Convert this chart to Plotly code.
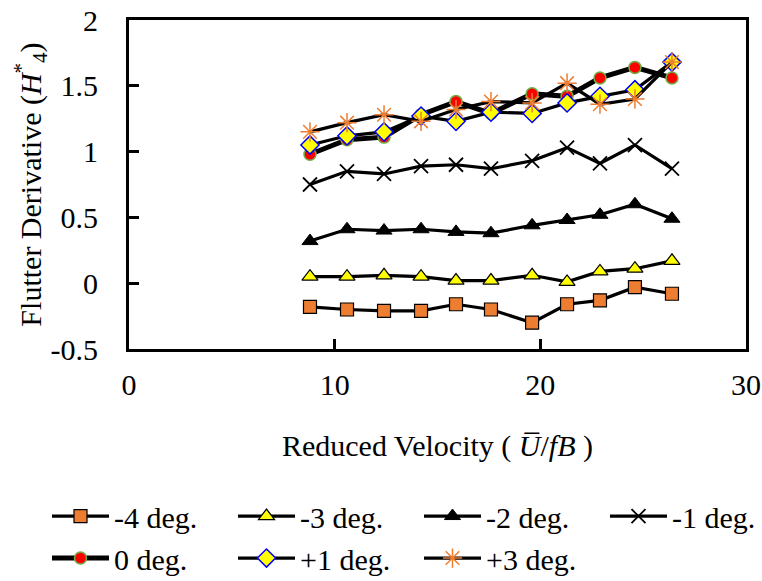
import plotly.graph_objects as go

# Reduced velocity U/fB for each test point
reduced_velocity = [8.8, 10.6, 12.4, 14.2, 15.9, 17.6, 19.6, 21.3, 22.9, 24.6, 26.4]

# Flutter derivative H4* for each angle of attack
h4_m4 = [-0.18, -0.20, -0.21, -0.21, -0.16, -0.20, -0.30, -0.16, -0.13, -0.03, -0.08]
h4_m3 = [0.05, 0.05, 0.06, 0.05, 0.02, 0.02, 0.06, 0.01, 0.09, 0.11, 0.17]
h4_m2 = [0.32, 0.41, 0.40, 0.41, 0.39, 0.38, 0.44, 0.48, 0.52, 0.60, 0.49]
h4_m1 = [0.75, 0.85, 0.83, 0.89, 0.90, 0.87, 0.93, 1.03, 0.91, 1.05, 0.87]
h4_0 = [0.98, 1.09, 1.11, 1.28, 1.38, 1.29, 1.44, 1.42, 1.56, 1.64, 1.56]
h4_p1 = [1.05, 1.12, 1.15, 1.27, 1.23, 1.30, 1.29, 1.37, 1.42, 1.47, 1.68]
h4_p3 = [1.15, 1.22, 1.28, 1.23, 1.32, 1.38, 1.37, 1.52, 1.36, 1.40, 1.68]

series_names = ["-4 deg.", "-3 deg.", "-2 deg.", "-1 deg.", "0 deg.", "+1 deg.", "+3 deg."]

x_ticks = [0, 10, 20, 30]
y_ticks = [-0.5, 0, 0.5, 1, 1.5, 2]

FONT = "Liberation Serif"
FS = 30
ORANGE = "#ED7D31"

styles = [
    dict(symbol="square", size=13, color=ORANGE, line=dict(color="black", width=1.2)),
    dict(symbol="triangle-up", size=14, color="#FFFF00", line=dict(color="black", width=1.2)),
    dict(symbol="triangle-up", size=14, color="black", line=dict(color="black", width=1)),
    dict(symbol="x-thin-open", size=14, color="black", line=dict(color="black", width=1.8)),
    dict(symbol="circle", size=12, color="#FF0000", line=dict(color="#70AD47", width=1.5)),
    dict(symbol="diamond", size=14, color="#FFFF00", line=dict(color="#0000FF", width=1.5)),
    dict(symbol="asterisk-open", size=16, color=ORANGE, line=dict(color=ORANGE, width=1.5)),
]
line_widths = [3.2, 3.2, 3.2, 3.2, 5, 3.2, 3.2]
all_series = [h4_m4, h4_m3, h4_m2, h4_m1, h4_0, h4_p1, h4_p3]

fig = go.Figure()
for name, ys, mk, lw in zip(series_names, all_series, styles, line_widths):
    fig.add_trace(go.Scatter(
        x=reduced_velocity, y=ys, name=name, mode="lines+markers",
        line=dict(color="black", width=lw),
        marker=mk,
    ))

fig.update_layout(
    width=762, height=581,
    margin=dict(l=129, r=16, t=20, b=232, autoexpand=False),
    paper_bgcolor="white", plot_bgcolor="white",
    font=dict(family=FONT, size=FS, color="black"),
    showlegend=True,
    legend=dict(
        orientation="h", xref="paper", yref="paper",
        x=-0.1329, y=-0.4287, xanchor="left", yanchor="top",
        entrywidth=114, entrywidthmode="pixels",
        font=dict(family=FONT, size=FS, color="black"),
        itemwidth=57, tracegroupgap=0,
    ),
)

fig.update_xaxes(
    range=[0, 30], tickvals=x_ticks, ticktext=[str(v) for v in x_ticks],
    showgrid=False, zeroline=False,
    showline=True, linecolor="black", linewidth=3, mirror=True,
    ticks="inside", ticklen=10, tickwidth=2.5, tickcolor="black",
    ticklabelstandoff=7,
    title=dict(text="Reduced Velocity ( <i>U\u0305</i>/<i>fB</i> )", standoff=35,
               font=dict(family=FONT, size=FS)),
)
fig.update_yaxes(
    range=[-0.5, 2], tickvals=y_ticks, ticktext=["-0.5", "0", "0.5", "1", "1.5", "2"],
    showgrid=False, zeroline=False,
    showline=True, linecolor="black", linewidth=3, mirror=True,
    ticks="inside", ticklen=10, tickwidth=2.5, tickcolor="black",
    ticklabelstandoff=22,
    title=dict(text="Flutter Derivative (<i>H</i><sup>*</sup><sub>4</sub>)", standoff=1,
               font=dict(family=FONT, size=FS)),
)

fig.write_html("out.html")
